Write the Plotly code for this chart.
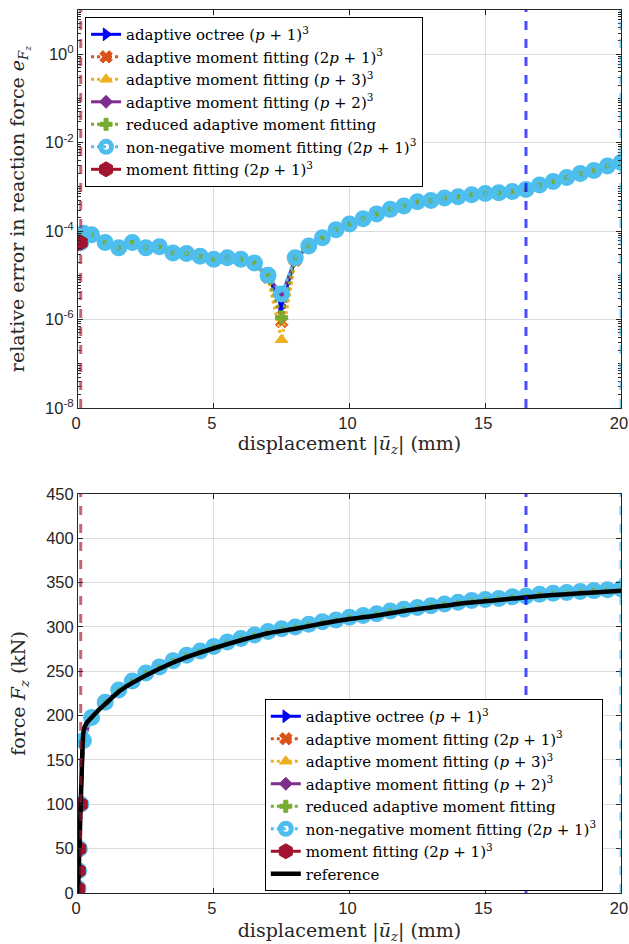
import plotly.graph_objects as go

# ---------------- data ----------------
disp = [0.005, 0.025, 0.05, 0.1, 0.2, 0.5, 1.0, 1.5, 2.0, 2.5, 3.0, 3.5, 4.0, 4.5, 5.0, 5.5,
        6.0, 6.5, 7.0, 7.5, 8.0, 8.5, 9.0, 9.5, 10.0, 10.5, 11.0, 11.5, 12.0, 12.5, 13.0,
        13.5, 14.0, 14.5, 15.0, 15.5, 16.0, 16.5, 17.0, 17.5, 18.0, 18.5, 19.0, 19.5, 20.0]

err_nonneg = [5.5e-5, 5.5e-5, 5.5e-5, 5.5e-5, 8.9e-5, 8.3e-5, 5.5e-5, 4.2e-5, 5.5e-5, 4.2e-5,
              4.4e-5, 3.2e-5, 3.1e-5, 2.7e-5, 2.3e-5, 2.5e-5, 2.3e-5, 1.9e-5, 1.0e-5, 3.8e-6,
              2.5e-5, 4.6e-5, 7.1e-5, 1.07e-4, 1.45e-4, 1.9e-4, 2.45e-4, 3.1e-4, 3.7e-4, 4.6e-4,
              4.9e-4, 5.6e-4, 6.0e-4, 6.6e-4, 7.1e-4, 7.4e-4, 7.9e-4, 8.7e-4, 1.1e-3, 1.32e-3,
              1.62e-3, 2.0e-3, 2.34e-3, 2.95e-3, 3.55e-3]
err_amf_2p1 = [5.5e-5, 5.5e-5, 5.5e-5, 5.5e-5, 8.9e-5, 8.3e-5, 5.4e-5, 4.1e-5, 5.4e-5, 4.1e-5,
               4.3e-5, 3.1e-5, 3.0e-5, 2.6e-5, 2.2e-5, 2.4e-5, 2.2e-5, 1.8e-5, 9.0e-6, 9.0e-7,
               2.2e-5, 4.5e-5, 7.0e-5, 1.06e-4, 1.44e-4, 1.9e-4, 2.45e-4, 3.1e-4, 3.7e-4, 4.6e-4,
               4.9e-4, 5.6e-4, 6.0e-4, 6.6e-4, 7.1e-4, 7.4e-4, 7.9e-4, 8.7e-4, 1.1e-3, 1.32e-3,
               1.62e-3, 2.0e-3, 2.34e-3, 2.95e-3, 3.55e-3]
err_amf_p3 = [5.5e-5, 5.5e-5, 5.5e-5, 5.5e-5, 8.9e-5, 8.3e-5, 5.4e-5, 4.1e-5, 5.4e-5, 4.1e-5,
              4.3e-5, 3.1e-5, 3.0e-5, 2.6e-5, 2.2e-5, 2.4e-5, 2.2e-5, 1.8e-5, 8.5e-6, 3.5e-7,
              2.1e-5, 4.5e-5, 7.0e-5, 1.06e-4, 1.44e-4, 1.9e-4, 2.45e-4, 3.1e-4, 3.7e-4, 4.6e-4,
              4.9e-4, 5.6e-4, 6.0e-4, 6.6e-4, 7.1e-4, 7.4e-4, 7.9e-4, 8.7e-4, 1.1e-3, 1.32e-3,
              1.62e-3, 2.0e-3, 2.34e-3, 2.95e-3, 3.55e-3]
err_amf_p2 = [5.5e-5, 5.5e-5, 5.5e-5, 5.5e-5, 8.9e-5, 8.3e-5, 5.5e-5, 4.2e-5, 5.5e-5, 4.2e-5,
              4.4e-5, 3.2e-5, 3.1e-5, 2.7e-5, 2.3e-5, 2.5e-5, 2.3e-5, 1.9e-5, 9.5e-6, 3.5e-6,
              2.4e-5, 4.6e-5, 7.1e-5, 1.07e-4, 1.45e-4, 1.9e-4, 2.45e-4, 3.1e-4, 3.7e-4, 4.6e-4,
              4.9e-4, 5.6e-4, 6.0e-4, 6.6e-4, 7.1e-4, 7.4e-4, 7.9e-4, 8.7e-4, 1.1e-3, 1.32e-3,
              1.62e-3, 2.0e-3, 2.34e-3, 2.95e-3, 3.55e-3]
err_reduced = [5.5e-5, 5.5e-5, 5.5e-5, 5.5e-5, 8.9e-5, 8.3e-5, 5.5e-5, 4.2e-5, 5.5e-5, 4.2e-5,
               4.4e-5, 3.2e-5, 3.1e-5, 2.7e-5, 2.3e-5, 2.5e-5, 2.3e-5, 1.9e-5, 9.5e-6, 1.1e-6,
               2.4e-5, 4.6e-5, 7.1e-5, 1.07e-4, 1.45e-4, 1.9e-4, 2.45e-4, 3.1e-4, 3.7e-4, 4.6e-4,
               4.9e-4, 5.6e-4, 6.0e-4, 6.6e-4, 7.1e-4, 7.4e-4, 7.9e-4, 8.7e-4, 1.1e-3, 1.32e-3,
               1.62e-3, 2.0e-3, 2.34e-3, 2.95e-3, 3.55e-3]
err_octree = [5.5e-5, 5.5e-5, 5.5e-5, 5.5e-5, 8.9e-5, 8.3e-5, 5.5e-5, 4.2e-5, 5.5e-5, 4.2e-5,
              4.4e-5, 3.2e-5, 3.1e-5, 2.7e-5, 2.3e-5, 2.5e-5, 2.3e-5, 1.9e-5, 9.5e-6, 2.0e-6,
              2.4e-5, 4.6e-5, 7.1e-5, 1.07e-4, 1.45e-4, 1.9e-4, 2.45e-4, 3.1e-4, 3.7e-4, 4.6e-4,
              4.9e-4, 5.6e-4, 6.0e-4, 6.6e-4, 7.1e-4, 7.4e-4, 7.9e-4, 8.7e-4]
disp_mf = [0.005, 0.025, 0.05, 0.1]
err_mf = [5.5e-5, 5.5e-5, 5.5e-5, 5.5e-5]

force = [5, 25, 50, 100, 172, 198, 215, 229, 239, 248, 255, 262, 268, 273, 278, 283,
         287, 291, 295, 298, 300, 303, 306, 308, 311, 313, 315, 318, 320, 322, 324,
         326, 328, 330, 331, 332, 334, 335, 337, 338, 339, 340, 341, 342, 343]
force_mf = [5, 25, 50, 100]

ref_disp = [0.0, 0.1, 0.15, 0.17, 0.19, 0.22, 0.27, 0.35, 0.5, 0.75, 1.0, 1.5, 2.0, 3.0, 4.0,
            5.0, 6.0, 7.0, 8.0, 9.0, 10.0, 11.0, 12.0, 13.0, 14.0, 15.0, 16.0, 17.0, 18.0,
            19.0, 20.0]
ref_force = [0.0, 100, 150, 168, 178, 185, 189, 193, 198, 206, 213, 227, 237, 253, 266,
             276, 285, 293, 298, 304, 309, 313, 318, 322, 326, 329, 332, 335, 337, 339, 341]

failure_disp = [0.1, 16.5, 20.0]
failure_colors = ["rgba(162,20,47,0.65)", "rgba(0,0,255,0.7)", "rgba(77,190,238,0.75)"]

names = ["adaptive octree (<i>p</i> + 1)<sup>3</sup>",
         "adaptive moment fitting (2<i>p</i> + 1)<sup>3</sup>",
         "adaptive moment fitting (<i>p</i> + 3)<sup>3</sup>",
         "adaptive moment fitting (<i>p</i> + 2)<sup>3</sup>",
         "reduced adaptive moment fitting",
         "non-negative moment fitting (2<i>p</i> + 1)<sup>3</sup>",
         "moment fitting (2<i>p</i> + 1)<sup>3</sup>"]

# ---------------- styling ----------------
C_BLUE = "#0000FF"
C_ORANGE = "#D95319"
C_YELLOW = "#EDB120"
C_PURPLE = "#7E2F8E"
C_GREEN = "#77AC30"
C_CYAN = "#4DBEEE"
C_RED = "#A2142F"

series_styles = [
    dict(color=C_BLUE, dash="solid", symbol="triangle-right", size=11),
    dict(color=C_ORANGE, dash="dot", symbol="x", size=11),
    dict(color=C_YELLOW, dash="dot", symbol="triangle-up", size=11),
    dict(color=C_PURPLE, dash="solid", symbol="diamond", size=10),
    dict(color=C_GREEN, dash="dot", symbol="cross", size=10),
    dict(color=C_CYAN, dash="dot", symbol="circle-open", size=11),
    dict(color=C_RED, dash="solid", symbol="hexagon", size=15),
]

SERIF = "DejaVu Serif"
SANS = "Liberation Sans"
AXC = "#262626"

fig = go.Figure()

top_x = [disp[:len(err_octree)], disp, disp, disp, disp, disp, disp_mf]
top_y = [err_octree, err_amf_2p1, err_amf_p3, err_amf_p2, err_reduced, err_nonneg, err_mf]
bot_x = [disp[:len(err_octree)], disp, disp, disp, disp, disp, disp_mf]
bot_y = [force[:len(err_octree)], force, force, force, force, force, force_mf]


def add_series(xs, ys, xa, ya, legend):
    for i, (xv, yv) in enumerate(zip(xs, ys)):
        st = series_styles[i]
        marker = dict(symbol=st["symbol"], size=st["size"], color=st["color"])
        if st["symbol"] == "circle-open":
            marker["line"] = dict(color=st["color"], width=6)
        else:
            marker["line"] = dict(color=st["color"], width=1)
        fig.add_trace(go.Scatter(
            x=xv, y=yv, mode="lines+markers", name=names[i],
            line=dict(color=st["color"], width=3, dash=st["dash"]),
            marker=marker, xaxis=xa, yaxis=ya, legend=legend))


add_series(top_x, top_y, "x", "y", "legend")
add_series(bot_x, bot_y, "x2", "y2", "legend2")

fig.add_trace(go.Scatter(x=ref_disp, y=ref_force, mode="lines", name="reference",
                         line=dict(color="black", width=4.5, shape="spline", smoothing=0.6),
                         xaxis="x2", yaxis="y2", legend="legend2"))

# vertical dashed failure lines
shapes = []
for xv, col in zip(failure_disp, failure_colors):
    for xr, yr in (("x", "y domain"), ("x2", "y2 domain")):
        shapes.append(dict(type="line", xref=xr, yref=yr, x0=xv, x1=xv, y0=0, y1=1,
                           line=dict(color=col, width=3, dash="dash"), layer="above"))

axis_common = dict(showline=True, linecolor=AXC, linewidth=1, mirror="allticks",
                   ticks="inside", ticklen=5, tickcolor=AXC, showgrid=True,
                   gridcolor="#dcdcdc", gridwidth=1, zeroline=False,
                   ticklabeloverflow="allow", automargin=False,
                   tickfont=dict(family=SANS, size=16.5, color=AXC))

xtitle = "displacement |<i>u\u0304</i><sub><i>z</i></sub>| (mm)"
TFONT = dict(family=SERIF, size=19, color=AXC)
LFONT = dict(family=SERIF, size=15, color="black")

fig.update_layout(
    width=629, height=944,
    margin=dict(l=78, r=8, t=10, b=51),
    paper_bgcolor="white", plot_bgcolor="white",
    shapes=shapes,
    xaxis=dict(domain=[0, 1], range=[0, 20], tickvals=[0, 5, 10, 15, 20], anchor="y",
               ticklabelshift=-2,
               title=dict(text=xtitle, font=TFONT, standoff=4), **axis_common),
    yaxis=dict(domain=[0.5493, 1.0], type="log", range=[-8, 1], anchor="x",
               tickvals=[1e-8, 1e-6, 1e-4, 1e-2, 1],
               ticktext=["10<sup>-8</sup>", "10<sup>-6</sup>", "10<sup>-4</sup>",
                         "10<sup>-2</sup>", "10<sup>0</sup>"],
               minor=dict(ticks="inside", ticklen=3, tickcolor=AXC, showgrid=False, dtick="D1"),
               title=dict(text="relative error in reaction force <i>e</i><sub><i>F<sub>z</sub></i></sub>",
                          font=TFONT),
               **axis_common),
    xaxis2=dict(domain=[0, 1], range=[0, 20], tickvals=[0, 5, 10, 15, 20], anchor="y2",
                ticklabelshift=-2,
                title=dict(text=xtitle, font=TFONT), **axis_common),
    yaxis2=dict(domain=[0, 0.4519], range=[0, 450], dtick=50, anchor="x2",
                title=dict(text="force <i>F</i><sub><i>z</i></sub> (kN)", font=TFONT),
                **axis_common),
    legend=dict(x=0.013, y=0.992, xanchor="left", yanchor="top", bgcolor="white",
                bordercolor="black", borderwidth=1, font=LFONT,
                itemwidth=30, tracegroupgap=0),
    legend2=dict(x=0.344, y=0.2197, xanchor="left", yanchor="top", bgcolor="white",
                 bordercolor="black", borderwidth=1, font=LFONT,
                 itemwidth=30, tracegroupgap=0),
    showlegend=True,
)

fig.write_html("out.html")
